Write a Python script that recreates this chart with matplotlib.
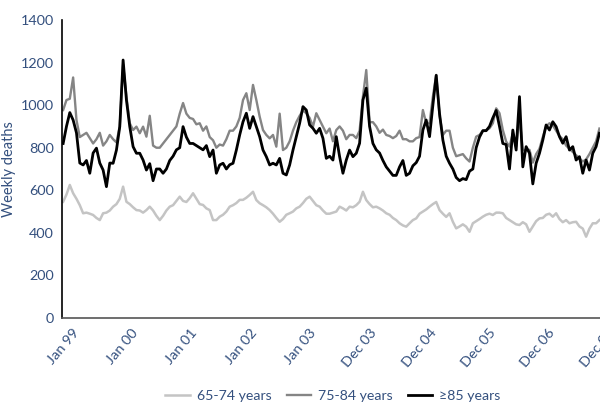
import numpy as np
import matplotlib
matplotlib.use("Agg")
import matplotlib.pyplot as plt

# ---- DATA (weekly deaths, roughly every 3 weeks) ----
deaths_65_74 = [
    546, 580, 625, 586, 560, 530, 492, 495, 490, 484, 470, 460, 492, 495, 505, 523, 535, 560, 617, 546,
    535, 520, 507, 505, 495, 507, 523, 505, 480, 460, 480, 505, 523, 530, 550, 570, 550, 545, 563, 586,
    560, 535, 531, 515, 507, 460, 460, 476, 485, 500, 523, 530, 540, 555, 555, 565, 578, 593, 554, 539,
    530, 520, 507, 490, 470, 452, 465, 485, 492, 500, 515, 523, 540, 560, 570, 550, 530, 523, 505, 490,
    490, 495, 500, 523, 515, 505, 523, 520, 530, 546, 593, 554, 535, 520, 523, 515, 505, 492, 485, 470,
    460, 445, 435, 429, 445, 460, 468, 490, 500, 510, 523, 535, 545, 507, 490, 475, 492, 452, 421, 430,
    440, 429, 405, 445, 455, 465, 476, 485, 490, 484, 495, 495, 492, 470, 460, 450, 440, 437, 450, 440,
    405, 430, 455, 468, 470, 485, 490, 476, 492, 465, 450, 460, 445, 450, 452, 430, 420, 382, 420, 445,
    445, 460,
]
deaths_75_84 = [
    977, 1024, 1030, 1130, 930, 850, 860, 870, 845, 820, 840, 870, 810, 830, 860, 840, 825, 900, 1190, 1040,
    915, 883, 899, 868, 899, 852, 950, 810, 800, 800, 820, 840, 860, 880, 900, 960, 1010, 960, 940, 935,
    910, 915, 880, 900, 850, 835, 800, 815, 810, 840, 880, 880, 900, 940, 1024, 1056, 977, 1095, 1024, 946,
    883, 860, 844, 860, 805, 960, 789, 800, 830, 880, 920, 950, 975, 962, 940, 899, 962, 930, 899, 868,
    890, 830, 883, 900, 880, 840, 860, 860, 845, 880, 1040, 1165, 920, 920, 900, 870, 885, 860, 855, 845,
    855, 880, 840, 840, 830, 830, 845, 850, 977, 915, 915, 1040, 1142, 950, 860, 880, 880, 800, 760, 765,
    770, 750, 735, 800, 852, 860, 880, 883, 891, 915, 985, 962, 883, 829, 805, 868, 805, 946, 789, 789,
    790, 730, 770, 795, 850, 900, 915, 905, 880, 855, 840, 810, 795, 780, 765, 750, 735, 745, 770, 800,
    830, 890,
]
deaths_85_plus = [
    820, 900, 965, 930, 870, 728, 719, 740, 680, 775, 798, 728, 695, 617, 728, 727, 789, 899, 1212, 1024,
    899, 805, 774, 774, 742, 695, 725, 645, 700, 700, 680, 700, 740, 760, 790, 800, 899, 850, 820, 820,
    810, 800, 790, 810, 758, 789, 680, 719, 727, 700, 720, 727, 789, 860, 922, 962, 891, 946, 899, 852,
    789, 758, 719, 727, 719, 750, 680, 672, 719, 789, 852, 915, 993, 977, 907, 891, 868, 891, 844, 750,
    760, 742, 852, 758, 680, 742, 789, 758, 774, 821, 1024, 1080, 900, 820, 790, 775, 740, 710, 690, 670,
    670, 710, 740, 670, 680, 715, 730, 760, 883, 930, 852, 1000, 1140, 960, 836, 760, 727, 700, 660, 645,
    655, 650, 690, 700, 800, 850, 880, 880, 900, 940, 975, 900, 820, 815, 700, 883, 789, 1040, 710, 805,
    774, 630, 727, 774, 836, 907, 883, 922, 899, 852, 821, 852, 789, 805, 742, 758, 680, 742, 695, 774,
    805, 868,
]
tick_labels = ["Jan 99", "Jan 00", "Jan 01", "Jan 02", "Jan 03",
               "Dec 03", "Dec 04", "Dec 05", "Dec 06", "Dec 07"]
series_names = ["65-74 years", "75-84 years", "\u226585 years"]

plt.rcParams["font.family"] = ["Lato", "DejaVu Sans"]
label_col = "#34507e"

weeks = np.linspace(0, 470, len(deaths_85_plus))

fig = plt.figure(figsize=(6, 4.03), dpi=100)
ax = fig.add_axes([62 / 600, 85 / 403, 538 / 600, 298 / 403])

ax.plot(weeks, deaths_65_74, color="#c4c4c4", lw=1.8, label=series_names[0])
ax.plot(weeks, deaths_75_84, color="#858585", lw=1.7, label=series_names[1])
ax.plot(weeks, deaths_85_plus, color="#000000", lw=2.0, label=series_names[2])

ax.set_xlim(-1, 470.5)
ax.set_ylim(0, 1400)
ax.set_yticks(range(0, 1401, 200))
ax.set_xticks([52 * i for i in range(len(tick_labels))])
ax.set_xticklabels(tick_labels, rotation=50, ha="center")
ax.tick_params(length=0, labelsize=10.4, labelcolor=label_col)
ax.tick_params(axis="y", pad=6)
ax.tick_params(axis="x", pad=6)
ax.set_ylabel("Weekly deaths", fontsize=10.5, color=label_col, labelpad=3)

for s in ["top", "right"]:
    ax.spines[s].set_visible(False)
ax.spines["left"].set_color("#000000")
ax.spines["bottom"].set_color("#555555")
ax.spines["left"].set_linewidth(1.2)
ax.spines["bottom"].set_linewidth(1.2)

fig.legend(loc="lower center", bbox_to_anchor=(0.555, -0.03), ncol=3, frameon=False,
           fontsize=10.2, handlelength=1.7, columnspacing=1.1, handletextpad=0.5,
           labelcolor=label_col)

fig.savefig("out.png", dpi=100)
